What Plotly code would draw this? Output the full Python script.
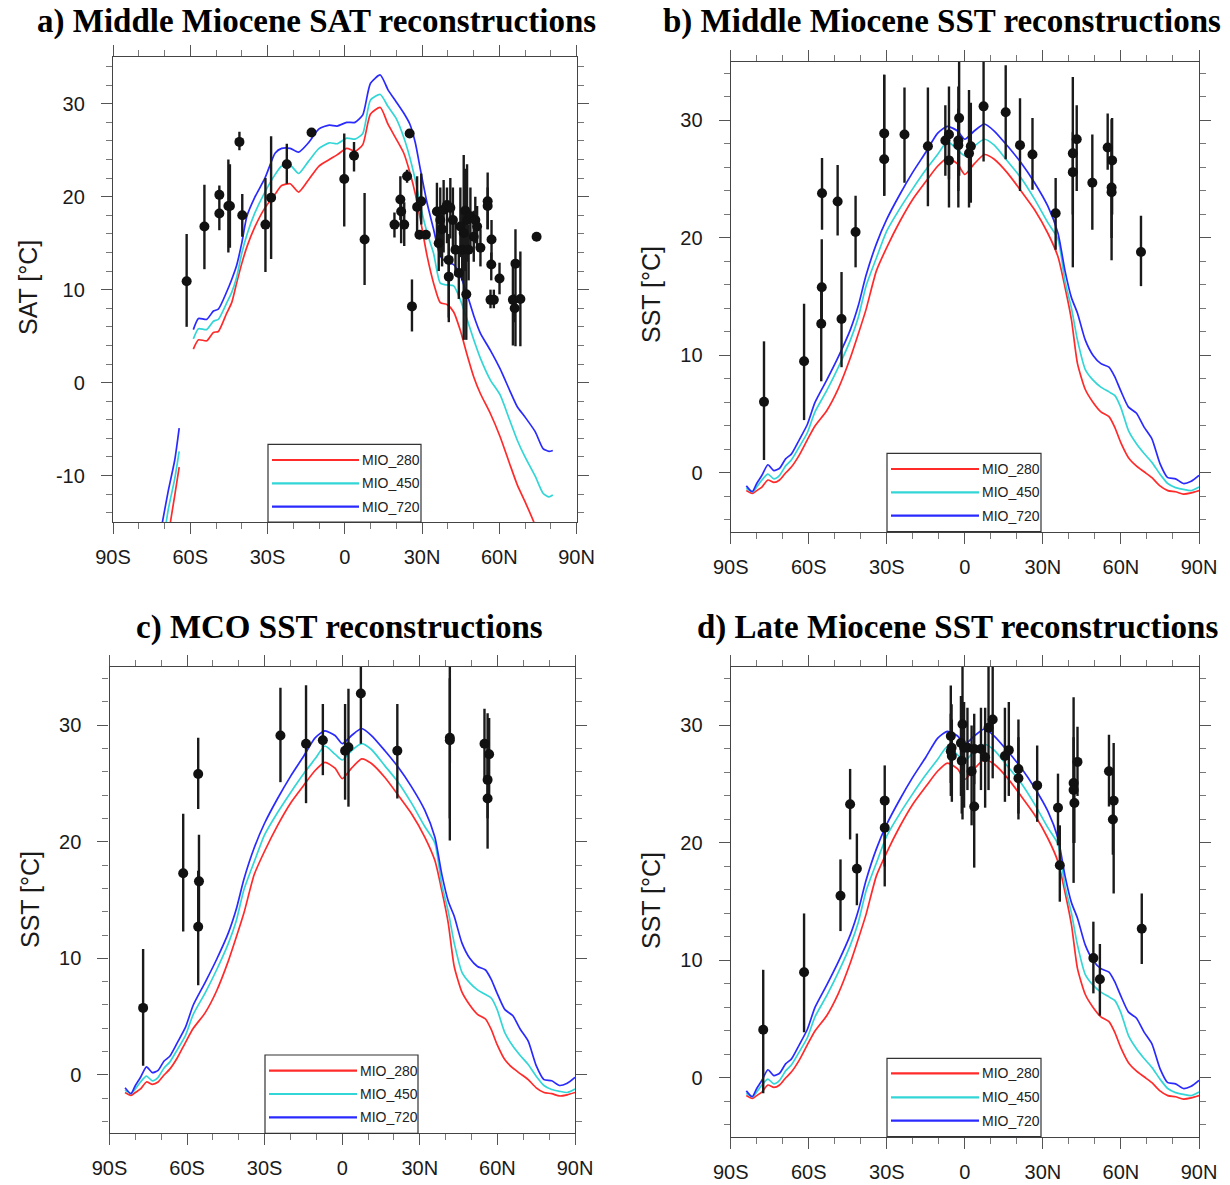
import plotly.graph_objects as go

W, H = 1230, 1185

# ---------------- model zonal means: SAT (panel a) ----------------
sat_lat = [-72, -70, -68.5, -66, -64.3, -62, -58.8, -56.8, -53.6, -51, -49.1, -45.8, -43.9, -42, -40, -38,
           -35, -31, -27, -24.5, -21.2, -17.9, -14.1, -10, -6, -3, 0.8, 4, 7, 10, 13.8, 16.8, 20, 22.9,
           25.3, 27.4, 29.4, 32, 34.5, 37.1, 39.7, 42.3, 44.9, 47.5, 50.1, 52.7, 56.5, 60.3, 64, 67, 70,
           74, 77, 79.3, 80.8]
sat_280 = [-22.5, -19.4, -16.4, -12.1, -9.1, None, 3.6, 4.6, 4.5, 5.4, 5.5, 7.5, 8.6, 10.7, 12.8, 14.6,
           16.7, 18.8, 20.3, 21.2, 21.4, 20.5, 21.8, 23.3, 24.0, 24.5, 25.2, 24.9, 25.6, 28.9, 29.6, 27.8,
           26.2, 24.7, 22.6, 20.3, 17.5, 13.6, 10.7, 8.6, 8.4, 7.6, 5.6, 3.0, 0.6, -1.2, -3.3, -5.8, -8.7,
           -11.0, -12.8, -15.4, -17.8, -19.0, -19.5]
sat_450 = [-19.5, -16.2, -13.6, -10.3, -7.4, None, 4.7, 5.8, 5.7, 6.6, 6.8, 8.6, 9.7, 11.3, 13.9, 15.9,
           18.2, 20.5, 22.4, 23.3, 23.4, 22.5, 23.8, 25.2, 25.8, 25.7, 26.3, 26.2, 26.8, 30.4, 31.0, 29.7,
           28.4, 26.4, 24.2, 21.8, 19.0, 16.1, 13.9, 10.7, 10.5, 10.4, 8.9, 6.8, 4.6, 2.6, 0.3, -1.3, -4.0,
           -6.2, -8.0, -10.1, -11.9, -12.3, -12.1]
sat_720 = [-16.8, -13.8, -11.6, -8.3, -4.9, None, 5.7, 6.9, 6.8, 7.7, 7.9, 9.8, 11.1, 12.6, 15.0, 17.9,
           19.9, 22.0, 24.7, 25.2, 25.2, 24.8, 25.8, 27.3, 27.7, 27.6, 28.0, 28.0, 28.8, 32.2, 33.1, 31.5,
           30.2, 29.0, 27.8, 25.8, 22.9, 19.3, 16.5, 13.6, 12.9, 12.7, 11.5, 9.5, 7.2, 5.3, 3.5, 1.5, -0.8,
           -2.6, -3.7, -5.3, -7.1, -7.4, -7.3]

# ---------------- model zonal means: SST (panels b, c, d) ----------------
sst_lat = [-84, -81.7, -80, -78, -75.7, -73.4, -71.2, -68.9, -66.7, -63.7, -60.6, -57.6, -53.1, -48.6, -44,
           -41, -38, -34, -30, -25, -20, -15, -10.5, -6.7, -2.8, 0, 3.6, 7.5, 11.3, 16.5, 21.6, 26.8, 31.9,
           35.8, 38.5, 41, 43.3, 46.3, 49.3, 52.3, 55.4, 57.6, 59.9, 62.9, 65.9, 68.9, 71.9, 75, 78, 81, 84,
           87, 90]
sst_280 = [-1.5, -1.75, -1.5, -1.2, -0.6, -0.8, -0.6, 0.0, 0.5, 1.5, 2.8, 4.0, 5.3, 7.2, 9.8, 11.8, 13.9,
           17.2, 19.2, 21.4, 23.3, 24.8, 26.1, 26.8, 26.3, 25.4, 26.3, 27.1, 26.7, 25.5, 24.0, 22.4, 20.4,
           18.4, 15.8, 13.0, 9.3, 7.1, 6.0, 5.2, 4.8, 3.9, 2.6, 1.3, 0.6, 0.1, -0.4, -1.1, -1.5, -1.6, -1.8,
           -1.7, -1.5]
sst_450 = [-1.3, -1.6, -1.2, -0.6, -0.1, -0.5, -0.2, 0.6, 1.1, 2.2, 3.4, 5.2, 7.0, 9.0, 11.3, 13.2, 15.9,
           18.3, 20.6, 22.5, 24.2, 25.8, 27.1, 28.2, 27.5, 27.0, 27.8, 28.4, 27.9, 26.5, 25.1, 23.3, 21.3,
           19.9, 16.3, 14.0, 11.3, 8.8, 7.9, 7.3, 6.9, 6.6, 5.6, 3.6, 2.5, 1.65, 0.9, -0.1, -0.9, -1.25,
           -1.4, -1.5, -1.2]
sst_720 = [-1.1, -1.6, -0.9, -0.2, 0.7, 0.2, 0.4, 1.2, 1.6, 2.8, 4.1, 6.0, 7.9, 9.9, 12.2, 14.2, 16.8,
           19.5, 21.6, 23.7, 25.6, 27.3, 28.9, 29.5, 29.1, 28.4, 29.1, 29.7, 29.1, 27.8, 26.4, 24.7, 22.7,
           20.4, 17.2, 14.9, 13.6, 11.3, 10.0, 9.3, 9.0, 8.2, 7.0, 5.6, 5.1, 3.9, 2.9, 0.8, -0.4, -0.5,
           -0.9, -0.7, -0.2]

# ---------------- proxy reconstructions (value, lower, upper) ----------------
a_lat = [-61.4, -54.5, -48.7, -48.7, -45.2, -44.6, -40.9, -39.8, -30.8, -28.6, -22.5, -12.9, -0.2, 3.6, 7.7,
         19.3, 21.6, 21.9, 23.1, 24.2, 25.2, 26.1, 28.1, 29.7, 29.0, 31.5, 35.8, 36.5, 37.1, 37.8, 38.4,
         39.7, 40.4, 40.4, 41.0, 42.0, 43.0, 44.3, 44.9, 45.6, 46.2, 46.8, 47.2, 47.5, 48.1, 48.8, 50.1,
         50.7, 51.4, 52.7, 55.5, 55.5, 56.6, 56.9, 57.0, 57.9, 60.1, 65.3, 66.0, 66.3, 68.2, 74.5]
a_val = [10.9, 16.8, 20.2, 18.2, 19.0, 19.0, 25.9, 18.0, 17.0, 19.9, 23.5, 26.9, 21.9, 24.4, 15.4,
         17.0, 19.7, 18.4, 17.0, 22.2, 26.8, 8.2, 18.9, 19.5, 15.9, 15.9, 18.4, 15.0, 17.5, 16.5, 18.6,
         19.1, 13.2, 11.4, 18.8, 17.5, 14.3, 11.8, 16.8, 14.3, 16.1, 18.5, 9.5, 17.5, 14.3, 17.9, 15.7,
         17.5, 16.8, 14.5, 19.5, 19.0, 8.9, 12.7, 15.4, 8.9, 11.2, 8.9, 8.0, 12.8, 9.0, 15.7]
a_lo = [6.0, 12.2, 19.1, 16.4, 14.0, 14.5, 25.0, 15.7, 11.9, 13.3, 21.4, 26.6, 16.8, 22.7, 10.5,
        15.6, 17.5, 15.0, 14.7, 21.5, 26.4, 5.5, 15.9, 17.0, 15.5, 15.5, 15.0, 12.0, 13.5, 12.5, 14.0,
        15.0, 6.5, 7.0, 15.5, 14.0, 11.5, 9.0, 13.5, 11.0, 4.6, 12.0, 4.6, 13.0, 11.0, 14.5, 13.0,
        15.0, 14.5, 12.5, 16.5, 16.5, 8.0, 11.0, 12.9, 8.0, 9.5, 4.0, 6.5, 3.9, 3.9, 15.7]
a_hi = [16.0, 21.3, 21.2, 19.1, 24.0, 23.5, 27.0, 20.3, 22.0, 26.5, 25.7, 27.2, 26.8, 25.9, 20.4,
        18.3, 22.2, 20.0, 19.4, 22.9, 27.2, 11.1, 22.2, 22.5, 16.3, 16.3, 21.5, 17.0, 21.0, 19.0, 21.8,
        21.0, 16.0, 15.0, 22.0, 21.0, 17.5, 14.0, 21.0, 18.5, 24.5, 23.0, 14.0, 23.5, 17.0, 21.0, 18.5,
        20.0, 19.0, 16.5, 22.6, 21.0, 10.0, 14.0, 17.5, 10.0, 12.9, 12.5, 9.5, 16.5, 14.1, 15.7]

b_lat = [-77.2, -61.8, -54.9, -55.0, -55.2, -48.9, -47.4, -42.0, -31.0, -31.0, -23.2, -14.2, -7.5, -6.1,
         -6.1, -2.5, -2.5, -2.2, 1.6, 2.3, 7.2, 15.7, 21.2, 26.0, 34.9, 41.5, 41.5, 43.0, 49.0, 54.9, 56.6,
         56.4, 56.4, 67.7]
b_val = [6.05, 9.5, 23.8, 15.8, 12.7, 23.1, 13.1, 20.5, 28.9, 26.7, 28.8, 27.8, 28.3, 28.8,
         26.6, 28.3, 27.9, 30.2, 27.2, 27.8, 31.2, 30.7, 27.9, 27.1, 22.1, 27.2, 25.6, 28.4, 24.7, 27.7, 26.6,
         24.3, 23.9, 18.8]
b_lo = [1.1, 4.5, 20.7, 12.8, 7.8, 20.2, 9.0, 17.5, 23.6, 23.6, 24.7, 22.7, 25.3, 22.6,
        25.0, 22.6, 24.0, 25.3, 22.6, 23.0, 26.5, 26.7, 24.0, 24.1, 19.0, 17.5, 22.0, 24.0, 20.7, 25.8, 22.0,
        18.1, 20.0, 15.9]
b_hi = [11.2, 14.4, 26.8, 19.9, 15.8, 26.2, 17.1, 23.6, 33.9, 33.9, 32.8, 32.8, 31.3, 32.9,
        28.0, 32.9, 31.0, 35.0, 32.6, 31.5, 35.5, 34.7, 31.9, 30.2, 25.1, 33.7, 29.0, 31.3, 28.8, 30.6, 30.2,
        30.1, 28.0, 21.9]

c_lat = [-77.0, -61.5, -55.7, -55.4, -55.7, -23.9, -14.0, -7.5, 1.1, 2.4, 7.2, 21.3, 41.6, 41.6, 55.0,
         56.8, 56.2, 56.2]
c_val = [5.75, 17.3, 25.8, 16.6, 12.7, 29.1, 28.4, 28.7, 27.8, 28.1, 32.7, 27.8, 28.9, 28.7, 28.4,
         27.5, 25.3, 23.7]
c_lo = [0.8, 12.3, 22.8, 12.7, 7.7, 25.1, 23.3, 25.7, 23.6, 23.0, 28.4, 23.7, 20.1, 22.0, 25.5,
        24.0, 22.0, 19.4]
c_hi = [10.8, 22.4, 28.9, 20.6, 17.5, 33.2, 33.4, 31.8, 31.8, 33.1, 35.5, 31.8, 35.5, 34.0, 31.4,
        30.6, 31.0, 28.0]

d_lat = [-77.5, -61.8, -47.8, -44.1, -41.5, -30.8, -30.8, -5.4, -5.1, -5.4, -5.0, -0.9, -1.5, -0.3, 1.0,
         -1.2, 2.6, 3.6, 3.6, 6.2, 7.8, 9.1, 10.7, 15.4, 16.9, 20.6, 20.6, 27.8, 35.8, 36.5, 41.8, 41.8,
         42.1, 43.3, 49.4, 51.9, 55.4, 57.2, 56.9, 68.0]
d_val = [4.1, 9.0, 15.5, 23.3, 17.8, 23.6, 21.3, 29.1, 28.1, 27.8, 27.4, 30.1, 28.5, 28.1, 28.1,
         27.0, 26.1, 23.1, 28.0, 28.0, 27.3, 29.8, 30.5, 27.4, 27.9, 26.3, 25.5, 24.9, 23.0, 18.1, 25.1, 24.5,
         23.4, 26.9, 10.2, 8.4, 26.1, 23.6, 22.0, 12.7]
d_lo = [-1.3, 3.9, 12.5, 20.3, 14.7, 16.3, 18.0, 25.1, 24.5, 24.0, 23.5, 22.0, 24.0, 23.0, 24.5,
        22.5, 21.5, 17.9, 25.0, 24.5, 23.0, 24.5, 25.5, 23.5, 24.0, 22.0, 22.5, 21.8, 19.8, 15.0, 16.6, 20.0,
        20.0, 24.0, 7.2, 5.3, 23.1, 15.7, 19.0, 9.7]
d_hi = [9.2, 14.0, 18.6, 26.3, 20.8, 26.6, 24.0, 33.4, 31.8, 31.0, 30.5, 35.5, 32.5, 32.0, 31.5,
        31.0, 30.0, 28.2, 31.0, 31.5, 31.5, 35.0, 35.5, 31.5, 32.0, 30.5, 29.0, 28.3, 25.9, 21.5, 32.4, 29.0,
        27.0, 29.9, 13.3, 11.4, 29.2, 28.5, 26.0, 15.7]

series_names = ["MIO_280", "MIO_450", "MIO_720"]
series_colors = ["#FF2A2A", "#33D6D6", "#2A2AFF"]

x_tickvals = [-90, -60, -30, 0, 30, 60, 90]
x_ticktext = ["90S", "60S", "30S", "0", "30N", "60N", "90N"]
y_tickvals = [-10, 0, 10, 20, 30]
y_ticktext = ["-10", "0", "10", "20", "30"]

titles = ["a) Middle Miocene SAT reconstructions", "b) Middle Miocene SST reconstructions",
          "c) MCO SST reconstructions", "d) Late Miocene SST reconstructions"]
ytitles = ["SAT [°C]", "SST [°C]", "SST [°C]", "SST [°C]"]


def px(x):
    return x / W


def py(y):
    return 1 - y / H


# panel geometry in page pixels (left, right, top, bottom)
geom = [(113, 576.5, 57.3, 522), (730.7, 1199, 61.7, 531.7),
        (109.5, 575, 666.7, 1133.3), (730.7, 1199, 666.7, 1136.7)]
yranges = [(-15, 35), (-5, 35), (-5, 35), (-5, 35)]
title_pos = [(316, 22), (942, 22), (339, 627), (958, 627)]
ytitle_pos = [(28, 288), (651, 295), (30, 900), (651, 901)]
# legend box: left, right, top, bottom, line start, line end, row ys
legend_geom = [(268, 421, 444.3, 522, 272, 359, (460, 483.3, 506.7)),
               (887, 1041, 453.3, 531.7, 891, 979, (469, 492.3, 515.7)),
               (265, 418, 1055, 1133.3, 269, 357, (1070.7, 1094, 1117.3)),
               (887, 1041, 1058.3, 1136.7, 891, 979, (1073.3, 1097.3, 1120.7))]

model_sets = [(sat_lat, [sat_280, sat_450, sat_720])] + [(sst_lat, [sst_280, sst_450, sst_720])] * 3
proxy_sets = [(a_lat, a_val, a_lo, a_hi), (b_lat, b_val, b_lo, b_hi),
              (c_lat, c_val, c_lo, c_hi), (d_lat, d_val, d_lo, d_hi)]

fig = go.Figure()
TICKFONT = dict(family="Liberation Sans, Arial, sans-serif", size=20, color="#1a1a1a")
annotations = []
shapes = []

for i in range(4):
    sx = "" if i == 0 else str(i + 1)
    xa, ya = "x" + sx, "y" + sx
    lat, model = model_sets[i]
    for k in range(3):
        fig.add_trace(go.Scatter(x=lat, y=model[k], mode="lines", name=series_names[k],
                                 line=dict(color=series_colors[k], width=1.7, shape="spline",
                                           smoothing=0.6),
                                 connectgaps=False, showlegend=False, xaxis=xa, yaxis=ya,
                                 hoverinfo="skip"))
    plat, pval, plo, phi = proxy_sets[i]
    plus = [round(h - v, 3) for v, h in zip(pval, phi)]
    minus = [round(v - l, 3) for v, l in zip(pval, plo)]
    fig.add_trace(go.Scatter(x=plat, y=pval, mode="markers", name="reconstructions",
                             marker=dict(color="#111111", size=10),
                             error_y=dict(type="data", symmetric=False, array=plus, arrayminus=minus,
                                          color="#1a1a1a", thickness=2.4, width=0),
                             showlegend=False, xaxis=xa, yaxis=ya))

    l, r, t, b = geom[i]
    common = dict(ticks="outside", tickwidth=1.2, tickcolor="#555", showline=True, linecolor="#444",
                  linewidth=1.3, mirror="ticks", showgrid=False, zeroline=False, tickfont=TICKFONT,
                  automargin=False, ticklen=11)
    fig.layout["xaxis" + sx] = dict(domain=[px(l), px(r)], anchor=ya, range=[-90, 90], tickmode="array",
                                    tickvals=x_tickvals, ticktext=x_ticktext,
                                    ticklabelstandoff=6,
                                    minor=dict(tickmode="linear", tick0=0, dtick=10, ticks="outside",
                                               ticklen=6, tickwidth=1, tickcolor="#777", showgrid=False),
                                    **common)
    fig.layout["yaxis" + sx] = dict(domain=[py(b), py(t)], anchor=xa, range=list(yranges[i]),
                                    tickmode="array", tickvals=y_tickvals, ticktext=y_ticktext,
                                    ticklabelstandoff=12,
                                    minor=dict(tickmode="linear", tick0=0, dtick=2, ticks="outside",
                                               ticklen=6, tickwidth=1, tickcolor="#777", showgrid=False),
                                    **common)

    tx, ty = title_pos[i]
    annotations.append(dict(text="<b>" + titles[i] + "</b>", x=px(tx), y=py(ty), xref="paper",
                            yref="paper", xanchor="center", yanchor="middle", showarrow=False,
                            font=dict(family="Liberation Serif, Times New Roman, serif", size=33,
                                      color="black")))
    yx, yy = ytitle_pos[i]
    annotations.append(dict(text=ytitles[i], x=px(yx), y=py(yy), xref="paper", yref="paper",
                            xanchor="center", yanchor="middle", textangle=-90, showarrow=False,
                            font=dict(family="Liberation Sans, Arial, sans-serif", size=25,
                                      color="#1a1a1a")))

    # legend box
    bl, br, bt, bb, ls, le, rows = legend_geom[i]
    shapes.append(dict(type="rect", xref="paper", yref="paper", x0=px(bl), x1=px(br), y0=py(bb),
                       y1=py(bt), line=dict(color="#333", width=1.2), fillcolor="white", layer="above"))
    for k in range(3):
        shapes.append(dict(type="line", xref="paper", yref="paper", x0=px(ls), x1=px(le),
                           y0=py(rows[k]), y1=py(rows[k]),
                           line=dict(color=series_colors[k], width=2.2), layer="above"))
        annotations.append(dict(text=series_names[k], x=px(le + 1), y=py(rows[k]), xref="paper",
                                yref="paper", xanchor="left", yanchor="middle", showarrow=False,
                                font=dict(family="Liberation Sans, Arial, sans-serif", size=14,
                                          color="#222")))

fig.update_layout(width=W, height=H, margin=dict(l=0, r=0, t=0, b=0, autoexpand=False),
                  paper_bgcolor="white", plot_bgcolor="white", showlegend=False,
                  annotations=annotations, shapes=shapes, template="none")

fig.write_html("out.html", config={"displayModeBar": False},
               post_script="document.body.style.margin='0';")
